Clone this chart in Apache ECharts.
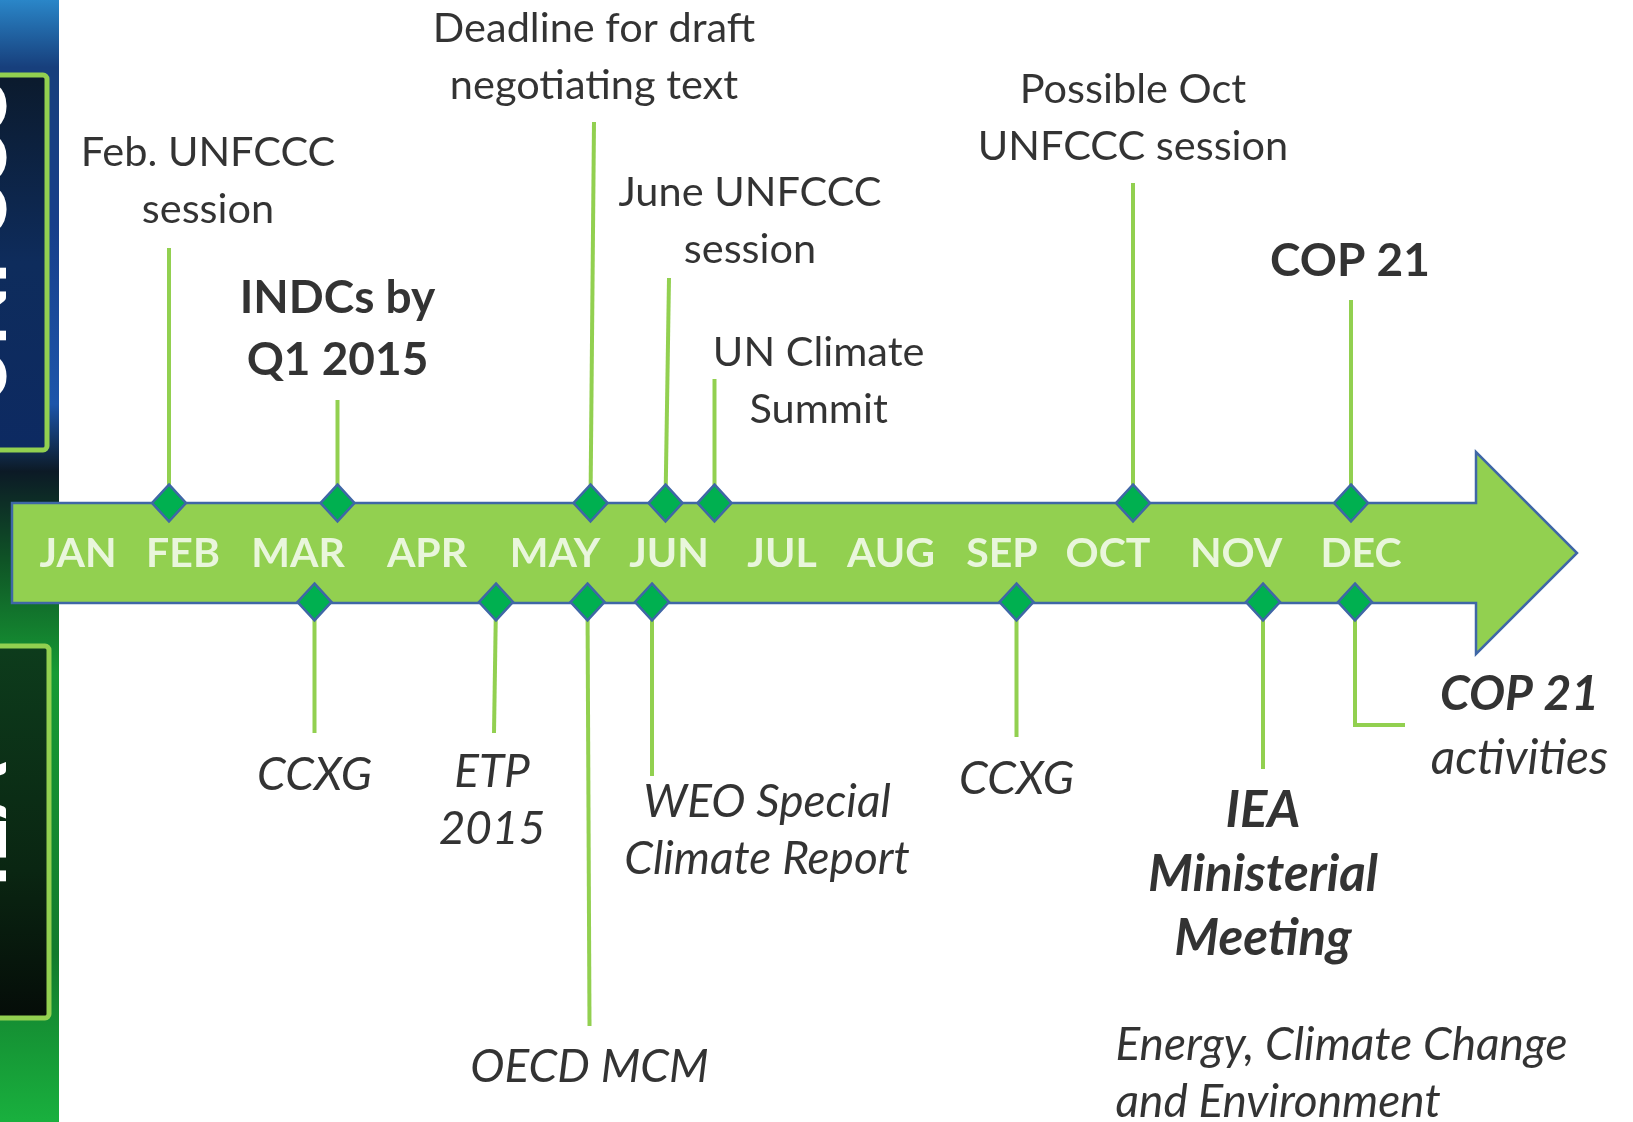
<!DOCTYPE html>
<html>
<head>
<meta charset="utf-8">
<script src="https://cdn.jsdelivr.net/npm/echarts@6/dist/echarts.min.js"></script>
<style>
  html, body { margin: 0; padding: 0; background: #fff; }
  #chart { width: 1633px; height: 1122px; }
</style>
</head>
<body>
<div id="chart"></div>
<script>
// === Timeline arrow: climate events 2015 ===
// x axis = position along the timeline, y axis = height above (+) / below (-) the arrow

const months = ["JAN", "FEB", "MAR", "APR", "MAY", "JUN", "JUL", "AUG", "SEP", "OCT", "NOV", "DEC"];
const monthPos = [78, 183, 298, 427, 555, 669, 782, 891, 1002, 1108, 1236, 1361];

// events above the arrow (UNFCCC track)
const upNames = ["Feb. UNFCCC\nsession", "INDCs by\nQ1 2015", "Deadline for draft\nnegotiating text",
  "June UNFCCC\nsession", "UN Climate\nSummit", "Possible Oct\nUNFCCC session", "COP 21"];
const upPos = [169, 337.5, 590.5, 665.5, 714.5, 1133, 1351];
const upTopPos = [169, 337.5, 594, 669, 714.5, 1133, 1351];
const upEnd = [305, 153, 431, 275, 174, 370, 253];

// events below the arrow (OECD / IEA track)
const downNames = ["CCXG", "ETP\n2015", "OECD MCM", "WEO Special\nClimate Report", "CCXG",
  "IEA\nMinisterial\nMeeting", "COP 21\nactivities"];
const downPos = [314.5, 496, 587.5, 652, 1016.5, 1263, 1355];
const downEndPos = [314.5, 494, 589.5, 652, 1016.5, 1263, 1355];
const downEnd = [-180, -180, -473, -223, -184, -216, -172];

// --- layout (label anchors) ---
const upLabelX = [208, 337.5, 594, 750, 818.6, 1133, 1350];
const upLabelY = [372, 224, 496, 332, 171.5, 435, 292];
const downLabelX = [314.5, 492, 589.5, 767, 1016.5, 1263, 1519.5];
const downLabelY = [-222, -248, -514.5, -277.5, -226, -322, -174];

const FONT = "Lato";
const GREEN = "#92d050";
const EDGE = "#3f67a6";
const BODY_H = 50, HEAD_H = 101;
const ARROW_START = 12, HEAD_START = 1476, TIP = 1577;

const chart = echarts.init(document.getElementById("chart"));

// stems: diamond -> label
const stems = [];
upPos.forEach((x, i) => stems.push({ coords: [[x, BODY_H], [upTopPos[i], upEnd[i]]] }));
downPos.forEach((x, i) => {
  const c = [[x, -BODY_H + 1], [downEndPos[i], downEnd[i]]];
  if (i === downPos.length - 1) c.push([downEndPos[i] + 50, downEnd[i]]); // elbow to "COP 21 activities"
  stems.push({ coords: c });
});

const diamonds = upPos.map(x => [x, BODY_H]).concat(downPos.map(x => [x, -BODY_H + 1]));

const upStyle = ["r", "b", "r", "r", "r", "r", "b"];
const downStyle = ["i", "i", "i", "i", "i", "bi", "cop"];

function textLabel(style) {
  const base = { show: true, position: "inside", align: "center", verticalAlign: "middle",
    color: "#000", fontFamily: FONT, fontSize: 41.5, lineHeight: 57 };
  if (style === "b") Object.assign(base, { fontWeight: "bold", fontSize: 46, lineHeight: 62 });
  if (style === "i") Object.assign(base, { fontStyle: "italic", fontSize: 46 });
  if (style === "bi") Object.assign(base, { fontStyle: "italic", fontWeight: "bold", fontSize: 51, lineHeight: 64 });
  if (style === "cop") {
    base.formatter = "{b|COP 21}\n{i|activities}";
    base.rich = {
      b: { fontFamily: FONT, fontStyle: "italic", fontWeight: "bold", fontSize: 48, lineHeight: 64, color: "#000" },
      i: { fontFamily: FONT, fontStyle: "italic", fontSize: 48, lineHeight: 64, color: "#000" }
    };
  }
  return base;
}

const labelData = [];
upNames.forEach((n, i) => labelData.push({ name: n, value: [upLabelX[i], upLabelY[i]], label: textLabel(upStyle[i]) }));
downNames.forEach((n, i) => labelData.push({ name: n, value: [downLabelX[i], downLabelY[i]], label: textLabel(downStyle[i]) }));
labelData.push({
  name: "Energy, Climate Change\nand Environment", value: [1115.5, -521],
  label: Object.assign(textLabel("i"), { align: "left" })
});

const option = {
  animation: false,
  grid: { left: 0, right: 0, top: 0, bottom: 0 },
  xAxis: { type: "value", min: 0, max: 1633, show: false },
  yAxis: { type: "value", min: -569, max: 553, show: false },
  graphic: [
    {
      type: "rect", shape: { x: 0, y: 0, width: 59, height: 1122 }, z: 0,
      style: {
        fill: new echarts.graphic.LinearGradient(0, 0, 0, 1, [
          { offset: 0, color: "#2a86c8" },
          { offset: 0.06, color: "#173f7c" },
          { offset: 0.2, color: "#173f8a" },
          { offset: 0.36, color: "#1d55aa" },
          { offset: 0.42, color: "#0c1a26" },
          { offset: 0.5, color: "#0f5426" },
          { offset: 0.6, color: "#169a34" },
          { offset: 0.85, color: "#127a2c" },
          { offset: 1, color: "#19b03e" }
        ])
      }
    },
    {
      type: "rect", shape: { x: -10, y: 75, width: 57, height: 375, r: 4 }, z: 1,
      style: {
        fill: new echarts.graphic.LinearGradient(0, 0, 0, 1, [
          { offset: 0, color: "#0b1a2c" }, { offset: 0.5, color: "#0e2c5c" }, { offset: 1, color: "#0d2a62" }
        ]),
        stroke: GREEN, lineWidth: 5
      }
    },
    {
      type: "rect", shape: { x: -10, y: 646, width: 59, height: 372, r: 4 }, z: 1,
      style: {
        fill: new echarts.graphic.LinearGradient(0, 0, 0, 1, [
          { offset: 0, color: "#0d3c1c" }, { offset: 0.6, color: "#0a2612" }, { offset: 1, color: "#050c08" }
        ]),
        stroke: GREEN, lineWidth: 5
      }
    },
    {
      type: "text", x: -20, y: 245, rotation: Math.PI / 2, z: 2,
      style: { text: "UNFCCC", fill: "#fff", font: "bold 80px Lato", align: "center", verticalAlign: "middle" }
    },
    {
      type: "text", x: -20, y: 825, rotation: Math.PI / 2, z: 2,
      style: { text: "IEA", fill: "#fff", font: "bold 80px Lato", align: "center", verticalAlign: "middle" }
    }
  ],
  series: [
    {
      // the arrow itself
      type: "custom", z: 1, silent: true,
      data: [0],
      renderItem: (params, api) => {
        const pts = [
          [ARROW_START, BODY_H], [HEAD_START, BODY_H], [HEAD_START, HEAD_H], [TIP, 0],
          [HEAD_START, -HEAD_H], [HEAD_START, -BODY_H], [ARROW_START, -BODY_H]
        ].map(p => api.coord(p));
        return { type: "polygon", shape: { points: pts }, style: { fill: GREEN, stroke: EDGE, lineWidth: 2.5 } };
      }
    },
    {
      type: "lines", coordinateSystem: "cartesian2d", polyline: true, z: 2, silent: true,
      lineStyle: { color: GREEN, width: 4, opacity: 1 },
      data: stems
    },
    {
      type: "scatter", z: 3, silent: true,
      symbol: "diamond", symbolSize: [34, 37],
      itemStyle: { color: "#00b050", borderColor: EDGE, borderWidth: 2.5, opacity: 1 },
      data: diamonds
    },
    {
      // month names on the arrow
      type: "scatter", z: 4, silent: true, symbolSize: 0,
      label: {
        show: true, position: "inside", formatter: p => p.name,
        color: "#fff", fontFamily: FONT, fontWeight: "bold", fontSize: 41
      },
      data: months.map((m, i) => ({ name: m, value: [monthPos[i], -1] }))
    },
    {
      // event labels
      type: "scatter", z: 4, silent: true, symbolSize: 0,
      label: { show: true, formatter: p => p.name },
      data: labelData
    }
  ]
};

chart.setOption(option);
</script>
</body>
</html>
